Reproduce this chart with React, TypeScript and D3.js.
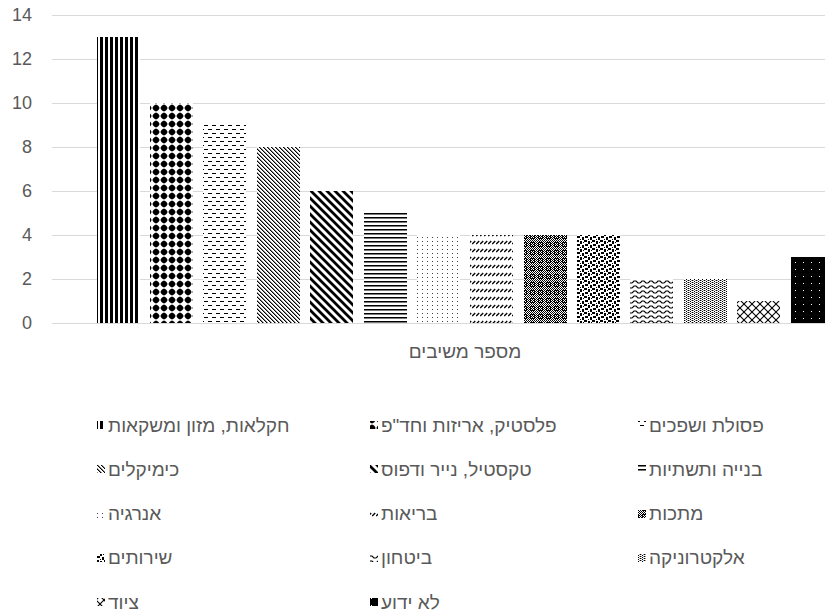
import React from "react";
import * as d3 from "d3";

// Respondents per sector
const categories = [
  "חקלאות, מזון ומשקאות",
  "פלסטיק, אריזות וחד\"פ",
  "פסולת ושפכים",
  "כימיקלים",
  "טקסטיל, נייר ודפוס",
  "בנייה ותשתיות",
  "אנרגיה",
  "בריאות",
  "מתכות",
  "שירותים",
  "ביטחון",
  "אלקטרוניקה",
  "ציוד",
  "לא ידוע",
];
const respondents = [13, 10, 9, 8, 6, 5, 4, 4, 4, 4, 2, 2, 1, 3];
const yTicks = [0, 2, 4, 6, 8, 10, 12, 14];
const axisTitle = "מספר משיבים";

const W = 825;
const H = 614;
const plot = { left: 52, right: 878, top: 15, bottom: 323 };
const textColor = "#595959";
const gridColor = "#d9d9d9";
const font = "'Liberation Sans', Arial, sans-serif";

// 1px cells inside a pattern tile
const cells = (pts: [number, number][], fill = "#000") =>
  pts.map(([x, y], i) => <rect key={i} x={x} y={y} width={1} height={1} fill={fill} />);

const checker = (w: number, h: number) => {
  const pts: [number, number][] = [];
  for (let y = 0; y < h; y++) for (let x = 0; x < w; x++) if ((x + y) % 2 === 0) pts.push([x, y]);
  return pts;
};

// Fill textures, one per sector
const patterns: { w: number; h: number; body: React.ReactNode }[] = [
  // vertical bars
  { w: 5, h: 5, body: <rect x={0} y={0} width={3} height={5} fill="#000" /> },
  // solid diamonds
  {
    w: 8,
    h: 8,
    body: (
      <g fill="#000">
        <polygon points="4,0.2 7.8,4 4,7.8 0.2,4" />
        <circle cx={4} cy={4} r={3} />
      </g>
    ),
  },
  // dashed horizontal
  {
    w: 8,
    h: 8,
    body: (
      <g fill="#000">
        <rect x={0} y={1} width={4} height={1} />
        <rect x={4} y={5} width={4} height={1} />
      </g>
    ),
  },
  // narrow downward diagonal
  {
    w: 4,
    h: 4,
    body: (
      <g>
        {cells([[0, 0], [1, 1], [2, 2], [3, 3]])}
        {cells([[1, 0], [2, 1], [3, 2], [0, 3]], "#8a8a8a")}
      </g>
    ),
  },
  // wide downward diagonal
  {
    w: 8,
    h: 8,
    body: (
      <g stroke="#000" strokeWidth={2.7}>
        <line x1={-2} y1={-2} x2={10} y2={10} />
        <line x1={-2} y1={6} x2={2} y2={10} />
        <line x1={6} y1={-2} x2={10} y2={2} />
      </g>
    ),
  },
  // narrow horizontal
  {
    w: 4,
    h: 4,
    body: (
      <g>
        <rect x={0} y={1} width={4} height={1} fill="#000" />
        <rect x={0} y={2} width={4} height={1} fill="#7a7a7a" />
      </g>
    ),
  },
  // sparse dots
  { w: 5, h: 4, body: cells([[2, 1]], "#444") },
  // dashed upward diagonal
  {
    w: 4,
    h: 8,
    body: <line x1={0.2} y1={4} x2={3.2} y2={1} stroke="#000" strokeWidth={1.3} />,
  },
  // dark checker with light spots
  {
    w: 8,
    h: 8,
    body: (
      <g>
        {cells(checker(8, 8), "#000")}
        <rect x={2} y={2} width={5} height={5} fill="#000" />
        {cells([[4, 4], [3, 3], [5, 5], [3, 5], [5, 3]], "#fff")}
      </g>
    ),
  },
  // large confetti
  {
    w: 8,
    h: 8,
    body: (
      <g fill="#000">
        <rect x={0} y={0} width={3} height={2} />
        <rect x={4} y={1} width={2} height={3} />
        <rect x={1} y={4} width={3} height={2} />
        <rect x={6} y={5} width={2} height={3} />
        <rect x={7} y={2} width={1} height={1} />
        <rect x={4} y={7} width={1} height={1} />
      </g>
    ),
  },
  // wave
  {
    w: 8,
    h: 5,
    body: <path d="M0,3 L2,1 L4,1 L6,3 L8,3" fill="none" stroke="#000" strokeWidth={1.1} />,
  },
  // dotted grid
  {
    w: 4,
    h: 4,
    body: (
      <g>
        {cells([[0, 0], [0, 2], [2, 1], [2, 3]], "#000")}
        {cells([[1, 0], [3, 0], [1, 2], [3, 2]], "#a0a0a0")}
      </g>
    ),
  },
  // shingle lattice
  {
    w: 8,
    h: 8,
    body: (
      <g stroke="#000" strokeWidth={1.1}>
        <line x1={0} y1={0} x2={8} y2={8} />
        <line x1={8} y1={0} x2={0} y2={8} />
      </g>
    ),
  },
  // black with white dots
  {
    w: 8,
    h: 7,
    body: (
      <g>
        <rect x={0} y={0} width={8} height={7} fill="#000" />
        {cells([[3, 3]], "#fff")}
      </g>
    ),
  },
];

const legendCols = [97, 370, 638];
const legendTop = 425;
const legendRowGap = 44.3;

export default function App() {
  const x = d3
    .scaleBand<string>()
    .domain(categories)
    .range([plot.left, plot.right])
    .paddingInner(0.2)
    .paddingOuter(0.837);
  const y = d3.scaleLinear().domain([0, 14]).range([plot.bottom, plot.top]);

  return (
    <svg
      width={W}
      height={H}
      style={{ position: "absolute", left: 0, top: 0, background: "#fff" }}
      fontFamily={font}
    >
      <defs>
        {patterns.map((p, i) => (
          <pattern
            key={i}
            id={`fill-${i}`}
            patternUnits="userSpaceOnUse"
            width={p.w}
            height={p.h}
          >
            <rect x={0} y={0} width={p.w} height={p.h} fill="#fff" />
            {p.body}
          </pattern>
        ))}
      </defs>
      <rect x={0} y={0} width={W} height={H} fill="#fff" />

      {/* gridlines and value axis */}
      {yTicks.map((t) => (
        <g key={t}>
          <line
            x1={plot.left}
            x2={plot.right}
            y1={Math.round(y(t)) + 0.5}
            y2={Math.round(y(t)) + 0.5}
            stroke={gridColor}
            strokeWidth={1}
          />
          <text
            x={32}
            y={y(t)}
            textAnchor="end"
            dominantBaseline="central"
            fontSize={18}
            fill={textColor}
          >
            {t}
          </text>
        </g>
      ))}

      {/* bars */}
      {categories.map((c, i) => {
        const bx = Math.round(x(c)!);
        const bw = Math.round(x.bandwidth());
        const top = Math.round(y(respondents[i]));
        return (
          <rect
            key={c}
            x={bx}
            y={top}
            width={bw}
            height={Math.round(y(0)) - top}
            fill={`url(#fill-${i})`}
          />
        );
      })}

      {/* category axis title */}
      <text
        x={(plot.left + plot.right) / 2}
        y={351}
        textAnchor="middle"
        dominantBaseline="central"
        fontSize={19}
        fill={textColor}
      >
        {axisTitle}
      </text>

      {/* legend */}
      {categories.map((c, i) => {
        const lx = legendCols[i % 3];
        const ly = legendTop + Math.floor(i / 3) * legendRowGap;
        return (
          <g key={c}>
            <rect x={lx} y={Math.round(ly - 4)} width={8} height={8} fill={`url(#fill-${i})`} />
            <text
              x={lx + 11}
              y={ly}
              dominantBaseline="central"
              fontSize={19}
              fill={textColor}
            >
              {c}
            </text>
          </g>
        );
      })}
    </svg>
  );
}
